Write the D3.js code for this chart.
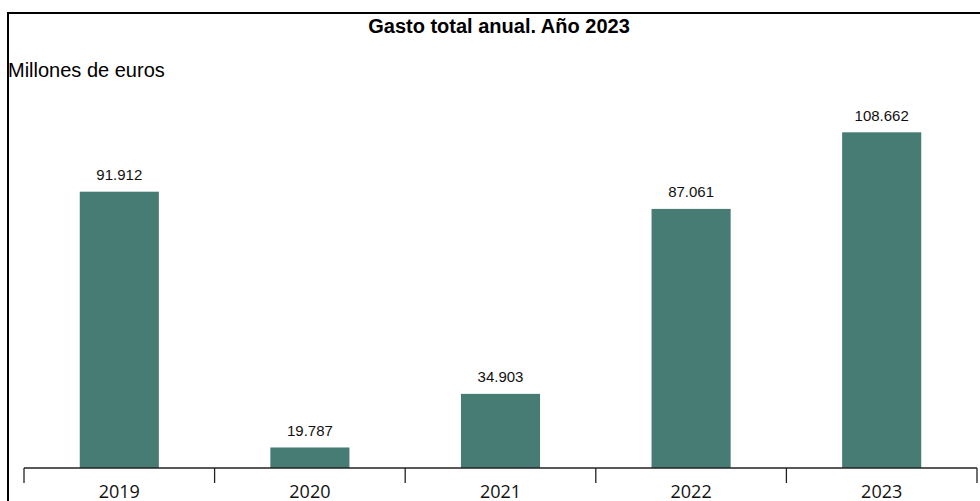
<!DOCTYPE html>
<html>
<head>
<meta charset="utf-8">
<script src="https://cdn.jsdelivr.net/npm/d3@7"></script>
<style>
  html, body { margin: 0; padding: 0; background: #fff; }
  svg { display: block; }
</style>
</head>
<body>
<svg width="980" height="501"></svg>
<script>
// Data
const years = ["2019", "2020", "2021", "2022", "2023"];
const gasto = [91.912, 19.787, 34.903, 87.061, 108.662];
const valueLabels = ["91.912", "19.787", "34.903", "87.061", "108.662"];

const svg = d3.select("svg");
const W = 980, H = 501;
const BAR_COLOR = "#467c74";
const baseY = 468;

// frame (top + left edge)
svg.append("path")
  .attr("d", `M8,${H} L8,13 L${W},13`)
  .attr("fill", "none")
  .attr("stroke", "#000")
  .attr("stroke-width", 2);

svg.append("text")
  .attr("x", 499).attr("y", 33)
  .attr("text-anchor", "middle")
  .attr("font-family", "Liberation Sans, Arial, sans-serif")
  .attr("font-weight", "bold")
  .attr("font-size", 20)
  .text("Gasto total anual. Año 2023");

svg.append("text")
  .attr("x", 8).attr("y", 77)
  .attr("font-family", "Liberation Sans, Arial, sans-serif")
  .attr("font-size", 20)
  .text("Millones de euros");

// scales
const xAxisScale = d3.scaleBand().domain(years).range([24, 977]).padding(0);
const x = d3.scaleBand().domain(years).range([24, 977])
  .paddingInner(0.585).paddingOuter(0.2925);
// y axis doesn't start at zero in the original
const y = d3.scaleLinear().domain([14, 108.662]).range([baseY, 132.3]);

const data = years.map((d, i) => ({ year: d, value: gasto[i], label: valueLabels[i] }));

svg.append("g").selectAll("rect")
  .data(data)
  .join("rect")
  .attr("x", d => x(d.year))
  .attr("y", d => y(d.value))
  .attr("width", x.bandwidth())
  .attr("height", d => baseY - y(d.value))
  .attr("fill", BAR_COLOR);

svg.append("g").selectAll("text")
  .data(data)
  .join("text")
  .attr("x", d => x(d.year) + x.bandwidth() / 2)
  .attr("y", d => y(d.value) - 11.5)
  .attr("text-anchor", "middle")
  .attr("font-family", "Liberation Sans, Arial, sans-serif")
  .attr("font-size", 15)
  .attr("fill", "#111")
  .text(d => d.label);

// x axis: baseline + ticks at band boundaries
const axis = svg.append("g").attr("stroke", "#222").attr("stroke-width", 1.3);
axis.append("line")
  .attr("x1", 24).attr("x2", 977)
  .attr("y1", baseY).attr("y2", baseY);
const bounds = years.map(d => xAxisScale(d)).concat([xAxisScale.range()[1]]);
axis.selectAll("line.tick")
  .data(bounds)
  .join("line")
  .attr("class", "tick")
  .attr("x1", d => d).attr("x2", d => d)
  .attr("y1", baseY).attr("y2", baseY + 15);

svg.append("g").selectAll("text")
  .data(years)
  .join("text")
  .attr("x", d => xAxisScale(d) + xAxisScale.bandwidth() / 2)
  .attr("y", 498)
  .attr("text-anchor", "middle")
  .attr("font-family", "Open Sans, sans-serif")
  .attr("font-size", 18)
  .attr("fill", "#111")
  .text(d => d);
</script>
</body>
</html>
